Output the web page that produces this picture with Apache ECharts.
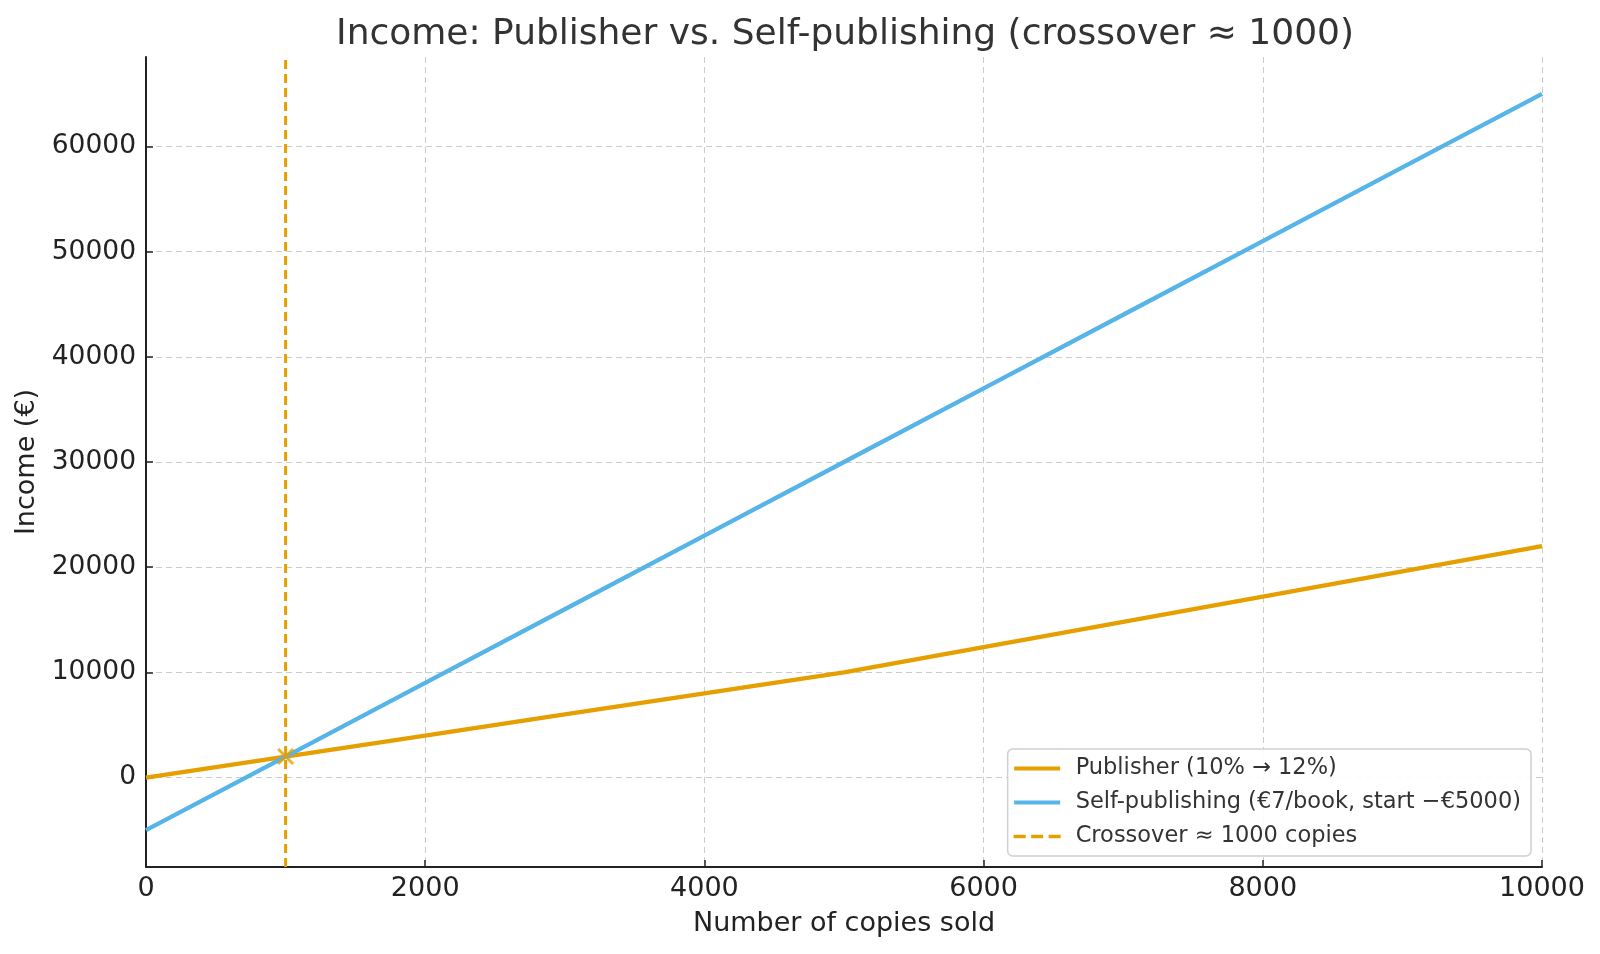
<!DOCTYPE html>
<html>
<head>
<meta charset="utf-8">
<script src="https://cdn.jsdelivr.net/npm/echarts@6/dist/echarts.min.js"></script>
<style>html,body{margin:0;padding:0;background:#fff}#c{width:1600px;height:954px}</style>
</head>
<body>
<div id="c"></div>
<script>
const copies = [0, 1000, 2000, 3000, 4000, 5000, 6000, 7000, 8000, 9000, 10000];
const publisherIncome = [0, 2000, 4000, 6000, 8000, 10000, 12400, 14800, 17200, 19600, 22000];
const selfIncome = [-5000, 2000, 9000, 16000, 23000, 30000, 37000, 44000, 51000, 58000, 65000];
const crossoverX = 1000;
const crossoverY = 2000;
const xTicks = [0, 2000, 4000, 6000, 8000, 10000];
const yTicks = [0, 10000, 20000, 30000, 40000, 50000, 60000];
const yMin = -8500, yMax = 68500;
const seriesNames = ['Publisher (10% \u2192 12%)', 'Self-publishing (\u20ac7/book, start \u2212\u20ac5000)', 'Crossover \u2248 1000 copies'];

const ORANGE = '#E69F00', BLUE = '#56B4E9';
const FONT = 'DejaVu Sans';
const SOLID_ICON = 'path://M0,0H46V4H0Z';
const DASH_ICON = 'path://M0,0H11V3H0Z M16,0H27V3H16Z M32,0H43V3H32Z';

const chart = echarts.init(document.getElementById('c'));
chart.setOption({
  animation: false,
  backgroundColor: '#fff',
  title: {
    text: 'Income: Publisher vs. Self-publishing (crossover \u2248 1000)',
    left: 840, textAlign: 'center', top: 12,
    textStyle: {fontFamily: FONT, fontSize: 36, fontWeight: 'normal', color: '#333'}
  },
  grid: {left: 146, right: 58, top: 57, bottom: 87, containLabel: false, outerBoundsMode: 'none'},
  legend: {
    data: [
      {name: seriesNames[0], icon: SOLID_ICON},
      {name: seriesNames[1], icon: SOLID_ICON},
      {name: seriesNames[2], icon: DASH_ICON}
    ],
    orient: 'vertical',
    right: 69, bottom: 98,
    backgroundColor: 'rgba(255,255,255,0.9)',
    borderColor: '#d0d0d0', borderWidth: 1.5, borderRadius: 5,
    padding: [8, 10, 8, 6],
    itemWidth: 47, itemHeight: 4, itemGap: 11,
    textStyle: {fontFamily: FONT, fontSize: 22.5, color: '#333', padding: [0, 0, 0, 10]}
  },
  xAxis: {
    type: 'value', min: 0, max: 10000, interval: 2000,
    name: 'Number of copies sold', nameLocation: 'middle', nameGap: 43,
    nameTextStyle: {fontFamily: FONT, fontSize: 27, color: '#222'},
    axisLine: {show: true, onZero: false, lineStyle: {color: '#222', width: 2}},
    axisTick: {show: true, inside: true, length: 7, lineStyle: {color: '#222', width: 1.5}, customValues: xTicks},
    axisLabel: {fontFamily: FONT, fontSize: 27, color: '#222', margin: 8, customValues: xTicks,
      showMinLabel: true, showMaxLabel: true, formatter: v => String(v)},
    splitLine: {show: true, lineStyle: {color: '#cccccc', type: [6, 4], width: 1}}
  },
  yAxis: {
    type: 'value', min: yMin, max: yMax,
    name: 'Income (\u20ac)', nameLocation: 'middle', nameGap: 85,
    nameTextStyle: {fontFamily: FONT, fontSize: 27, color: '#222'},
    axisLine: {show: true, onZero: false, lineStyle: {color: '#222', width: 2}},
    axisTick: {show: true, inside: true, length: 7, lineStyle: {color: '#222', width: 1.5}, customValues: yTicks},
    axisLabel: {fontFamily: FONT, fontSize: 26.5, color: '#222', margin: 10, padding: [5, 0, 0, 0],
      customValues: yTicks, formatter: v => String(v)},
    splitLine: {show: true, lineStyle: {color: '#cccccc', type: [6, 4], width: 1}}
  },
  series: [
    {
      name: seriesNames[0], type: 'line', symbol: 'none', z: 3,
      data: copies.map((c, i) => [c, publisherIncome[i]]),
      lineStyle: {color: ORANGE, width: 4.3}, itemStyle: {color: ORANGE}
    },
    {
      name: seriesNames[1], type: 'line', symbol: 'none', z: 3,
      data: copies.map((c, i) => [c, selfIncome[i]]),
      lineStyle: {color: BLUE, width: 4.3}, itemStyle: {color: BLUE}
    },
    {
      name: seriesNames[2], type: 'line', symbol: 'none', z: 2,
      data: [[crossoverX, yMin], [crossoverX, yMax]],
      lineStyle: {color: ORANGE, width: 3, type: [9, 5]}, itemStyle: {color: ORANGE}
    },
    {
      name: 'crossoverPoint', type: 'scatter', z: 4,
      data: [[crossoverX, crossoverY]],
      symbol: 'path://M0,0L10,10M10,0L0,10', symbolSize: 15,
      itemStyle: {color: 'rgba(0,0,0,0)', borderColor: ORANGE, borderWidth: 3}
    }
  ]
});
</script>
</body>
</html>
